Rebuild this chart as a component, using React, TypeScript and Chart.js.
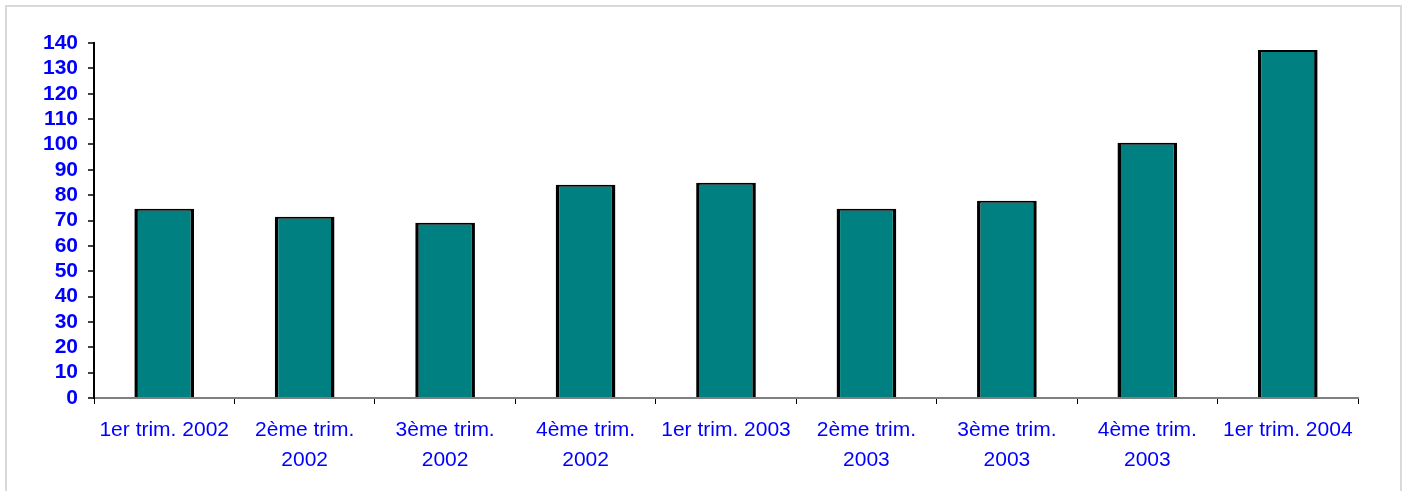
import React, { useEffect, useRef } from "react";
import { Chart, registerables } from "chart.js";

Chart.register(...registerables);

const categories: (string | string[])[] = [
  "1er trim. 2002",
  ["2ème trim.", "2002"],
  ["3ème trim.", "2002"],
  ["4ème trim.", "2002"],
  "1er trim. 2003",
  ["2ème trim.", "2003"],
  ["3ème trim.", "2003"],
  ["4ème trim.", "2003"],
  "1er trim. 2004",
];

const values: number[] = [74.6, 71.5, 69.1, 84.1, 84.9, 74.6, 77.8, 100.7, 137.2];

const yMin = 0;
const yMax = 140;
const yStep = 10;

export default function App() {
  const canvasRef = useRef<HTMLCanvasElement | null>(null);

  useEffect(() => {
    if (!canvasRef.current) return;
    const chart = new Chart(canvasRef.current, {
      type: "bar",
      data: {
        labels: categories,
        datasets: [
          {
            data: values,
            backgroundColor: "#008080",
            borderColor: "#000000",
            borderWidth: { left: 3.5, right: 3.5, top: 2, bottom: 0 },
            borderSkipped: false,
            categoryPercentage: 1,
            barPercentage: 0.425,
          },
        ],
      },
      options: {
        animation: false,
        responsive: false,
        maintainAspectRatio: false,
        devicePixelRatio: 1,
        layout: { padding: { left: 0, right: 46, top: 43, bottom: 0 } },
        plugins: {
          legend: { display: false },
          tooltip: { enabled: false },
          title: { display: false },
        },
        scales: {
          x: {
            afterFit: (s: any) => {
              s.height = 93;
            },
            grid: {
              offset: true,
              drawOnChartArea: false,
              drawTicks: true,
              tickLength: 6,
              color: "#000000",
              lineWidth: 1,
            },
            border: { display: true, color: "#808080", width: 2 },
            ticks: {
              color: "#0000FF",
              padding: 11,
              maxRotation: 0,
              autoSkip: false,
              font: { family: "Arial, 'Liberation Sans', sans-serif", size: 21, lineHeight: 1.45 },
            },
          },
          y: {
            min: yMin,
            max: yMax,
            afterFit: (s: any) => {
              s.width = 94;
            },
            grid: {
              drawOnChartArea: false,
              drawTicks: true,
              tickLength: 6,
              color: "#404040",
              lineWidth: 2,
            },
            border: { display: true, color: "#000000", width: 2 },
            ticks: {
              stepSize: yStep,
              autoSkip: false,
              color: "#0000FF",
              padding: 10,
              font: { family: "Arial, 'Liberation Sans', sans-serif", size: 21, weight: "bold" },
            },
          },
        },
      },
    });
    return () => chart.destroy();
  }, []);

  return (
    <div style={{ position: "absolute", left: 0, top: 0, width: 1404, height: 491, background: "#fff", overflow: "hidden" }}>
      <div
        style={{
          position: "absolute",
          left: 5,
          top: 5,
          width: 1397,
          height: 500,
          border: "2px solid #d9d9d9",
          boxSizing: "border-box",
        }}
      />
      <canvas ref={canvasRef} width={1404} height={491} style={{ position: "absolute", left: 0, top: 0, width: 1404, height: 491 }} />
    </div>
  );
}
